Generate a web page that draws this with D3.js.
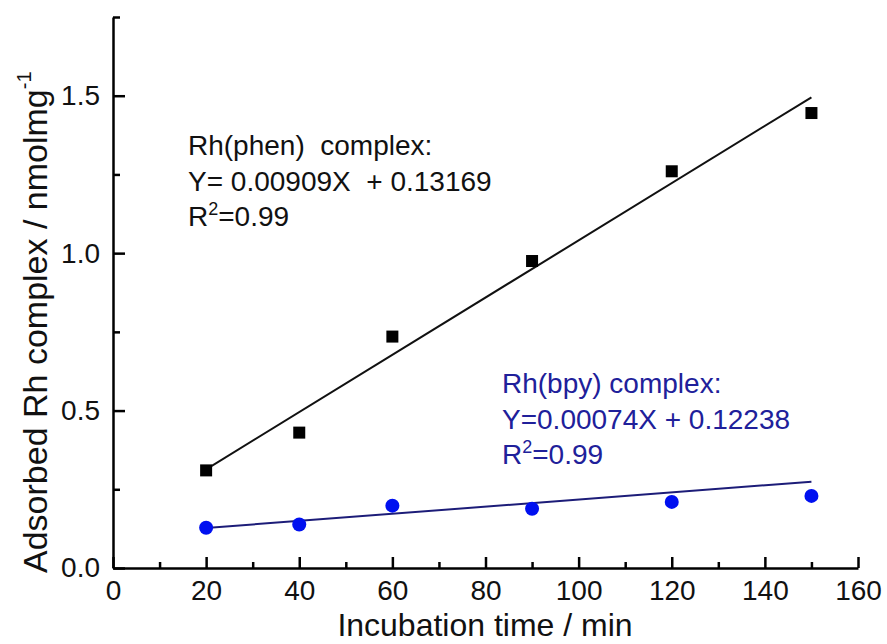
<!DOCTYPE html>
<meta charset="utf-8">
<style>
	body { margin: 0; background: #fff; font-family: "Liberation Sans", Arial, sans-serif; }
	.axis path, .axis line { stroke: #000; }
	.axis text { fill: #111; }
</style>
<body>
<svg id="chart" width="887" height="644"></svg>
<script src="https://d3js.org/d3.v7.min.js"></script>
<script>
	// values
	var times = [20, 40, 60, 90, 120, 150];
	var phen = [0.31, 0.43, 0.735, 0.975, 1.26, 1.445];
	var bpy = [0.128, 0.138, 0.198, 0.188, 0.21, 0.229];
	// fitted lines as drawn (end points)
	var phenFit = [[20, 0.3135], [150, 1.495]];
	var bpyFit = [[20, 0.127], [150, 0.274]];
	var xTicks = [0, 20, 40, 60, 80, 100, 120, 140, 160];
	var yTicks = [0, 0.5, 1.0, 1.5];

	var svg = d3.select("#chart");

	var x = d3.scaleLinear().domain([0, 160]).range([113, 858]);
	var y = d3.scaleLinear().domain([0, 1.75]).range([568, 17]);

	// minor ticks
	svg.append("g")
		.attr("class", "axis")
		.attr("transform", "translate(0," + y(0) + ")")
		.call(d3.axisBottom(x).tickValues(d3.range(10, 160, 20)).tickSize(-6).tickFormat(""))
		.call(function(g) { g.select(".domain").remove(); })
		.selectAll("line").attr("stroke-width", 2.5);

	svg.append("g")
		.attr("class", "axis")
		.attr("transform", "translate(" + x(0) + ",0)")
		.call(d3.axisLeft(y).tickValues([0.25, 0.75, 1.25, 1.75]).tickSize(-7).tickFormat(""))
		.call(function(g) { g.select(".domain").remove(); })
		.selectAll("line").attr("stroke-width", 2.5);

	// major ticks + labels
	var gx = svg.append("g")
		.attr("class", "axis")
		.attr("transform", "translate(0," + y(0) + ")")
		.call(d3.axisBottom(x).tickValues(xTicks).tickSize(-11).tickSizeOuter(0).tickPadding(12));
	gx.select(".domain").attr("stroke-width", 2.5);
	gx.selectAll("line").attr("stroke-width", 2.5);
	gx.selectAll("text").attr("font-size", 28).attr("font-family", "Liberation Sans, Arial");

	var gy = svg.append("g")
		.attr("class", "axis")
		.attr("transform", "translate(" + x(0) + ",0)")
		.call(d3.axisLeft(y).tickValues(yTicks).tickSize(-12).tickSizeOuter(0).tickPadding(13).tickFormat(d3.format(".1f")));
	gy.select(".domain").attr("stroke-width", 2.5);
	gy.selectAll("line").attr("stroke-width", 2.5);
	gy.selectAll("text").attr("font-size", 28).attr("font-family", "Liberation Sans, Arial");

	// fit lines
	var line = d3.line().x(function(d) { return x(d[0]); }).y(function(d) { return y(d[1]); });
	svg.append("path").datum(phenFit).attr("d", line)
		.attr("fill", "none").attr("stroke", "#111").attr("stroke-width", 2);
	svg.append("path").datum(bpyFit).attr("d", line)
		.attr("fill", "none").attr("stroke", "#1c1c78").attr("stroke-width", 2);

	// points
	svg.selectAll(".sq").data(times).enter().append("rect")
		.attr("x", function(d) { return x(d) - 6; })
		.attr("y", function(d, i) { return y(phen[i]) - 6; })
		.attr("width", 12).attr("height", 12)
		.attr("fill", "#000");

	svg.selectAll(".dot").data(times).enter().append("circle")
		.attr("cx", function(d) { return x(d); })
		.attr("cy", function(d, i) { return y(bpy[i]); })
		.attr("r", 7)
		.attr("fill", "#0010f0");

	// axis titles
	svg.append("text")
		.attr("x", 485).attr("y", 636)
		.attr("text-anchor", "middle")
		.attr("font-size", 32).attr("fill", "#111")
		.text("Incubation time / min");

	var yl = svg.append("text")
		.attr("transform", "translate(47,573) rotate(-90)")
		.attr("font-size", 34).attr("fill", "#111");
	yl.append("tspan").text("Adsorbed Rh complex / nmolmg");
	yl.append("tspan").attr("font-size", 20).attr("dy", -16).text("-1");

	// annotations
	function note(x0, y0, lines, colour) {
		var t = svg.append("g").attr("fill", colour).attr("font-size", 28);
		lines.forEach(function(l, i) {
			var tx = t.append("text").attr("x", x0).attr("y", y0 + i * 35.5).style("white-space", "pre");
			if (l.sup) {
				tx.append("tspan").text("R");
				tx.append("tspan").attr("font-size", 18).attr("dy", -11).text("2");
				tx.append("tspan").attr("dy", 11).text("=0.99");
			} else {
				tx.text(l.text);
			}
		});
	}
	note(188, 155, [{text: "Rh(phen)  complex:"}, {text: "Y= 0.00909X  + 0.13169"}, {sup: true}], "#111");
	note(502, 393, [{text: "Rh(bpy) complex:"}, {text: "Y=0.00074X + 0.12238"}, {sup: true}], "#20209a");
</script>
</body>
